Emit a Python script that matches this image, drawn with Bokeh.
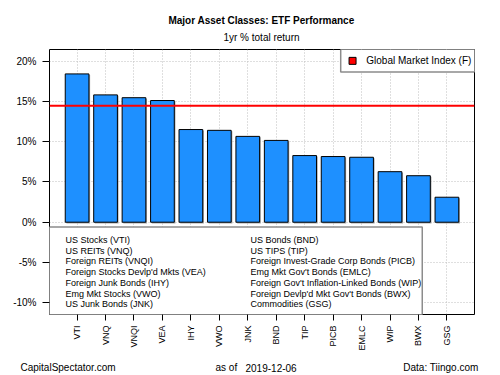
import math
from bokeh.plotting import figure
from bokeh.layouts import column
from bokeh.models import (Range1d, FixedTicker, PrintfTickFormatter, Span, Label,
                          ColumnDataSource)
from bokeh.core.properties import value
from bokeh.embed import file_html
from bokeh.resources import INLINE

# ---------------- data ----------------
tickers = ["VTI", "VNQ", "VNQI", "VEA", "IHY", "VWO", "JNK",
           "BND", "TIP", "PICB", "EMLC", "WIP", "BWX", "GSG"]
returns = [18.4, 15.8, 15.45, 15.1, 11.5, 11.4, 10.65,
           10.15, 8.27, 8.15, 8.06, 6.27, 5.77, 3.1]
names = ["US Stocks (VTI)", "US REITs (VNQ)", "Foreign REITs (VNQI)",
         "Foreign Stocks Devlp'd Mkts (VEA)", "Foreign Junk Bonds (IHY)",
         "Emg Mkt Stocks (VWO)", "US Junk Bonds (JNK)",
         "US Bonds (BND)", "US TIPS (TIP)", "Foreign Invest-Grade Corp Bonds (PICB)",
         "Emg Mkt Gov't Bonds (EMLC)", "Foreign Gov't Inflation-Linked Bonds (WIP)",
         "Foreign Devlp'd Mkt Gov't Bonds (BWX)", "Commodities (GSG)"]
gmi_value = 14.44
gmi_label = "Global Market Index (F)"
y_ticks = [-10, -5, 0, 5, 10, 15, 20]
title_text = "Major Asset Classes: ETF Performance"
subtitle_text = "1yr % total return"
footer_left = "CapitalSpectator.com"
footer_asof = "as of"
footer_date = "2019-12-06"
footer_right = "Data: Tiingo.com"

FONT = "Liberation Sans"
W = 500
HEADER_H = 44
FOOTER_H = 19
MAIN_H = 375 - HEADER_H - FOOTER_H


def blank_fig(h):
    f = figure(width=W, height=h, output_backend="svg", toolbar_location=None,
               x_axis_location=None, y_axis_location=None,
               x_range=Range1d(0, 1), y_range=Range1d(0, 1),
               min_border=0, min_border_left=0, min_border_right=0,
               min_border_top=0, min_border_bottom=0, frame_align=False)
    f.outline_line_color = None
    f.xgrid.visible = False
    f.ygrid.visible = False
    f.background_fill_color = "white"
    f.border_fill_color = "white"
    return f


def add_label(fig, txt, x, y, size, align="left", style="normal"):
    fig.add_layout(Label(x=x, y=y, x_units="screen", y_units="screen", text=txt,
                         text_font=FONT, text_font_size=size, text_align=align,
                         text_baseline="middle", text_font_style=style,
                         text_color="black"))


# ---------------- header ----------------
head = blank_fig(HEADER_H)
add_label(head, title_text, 261, HEADER_H - 20, "10px", "center", "bold")
add_label(head, subtitle_text, 261, HEADER_H - 37, "10px", "center")

# ---------------- main chart ----------------
# R barplot layout: width 1, space 0.2
centers = [0.7 + 1.2 * i for i in range(len(tickers))]

p = figure(width=W, height=MAIN_H, output_backend="svg", toolbar_location=None,
           x_range=Range1d(-0.464, 17.464), y_range=Range1d(-11.45, 21.43),
           min_border_left=49, min_border_right=26,
           min_border_top=49 - HEADER_H,
           min_border_bottom=(375 - FOOTER_H) - 314, frame_align=False)
p.background_fill_color = "white"
p.border_fill_color = "white"
p.outline_line_color = "black"
p.outline_line_width = 1

# grid
p.xgrid.ticker = FixedTicker(ticks=centers)
p.ygrid.ticker = FixedTicker(ticks=y_ticks)
for g in (p.xgrid, p.ygrid):
    g.grid_line_color = "#BEBEBE"
    g.grid_line_dash = "1 2"
    g.grid_line_width = 1

# axes
p.xaxis.ticker = FixedTicker(ticks=centers)
p.xaxis.major_label_overrides = {c: t for c, t in zip(centers, tickers)}
p.xaxis.major_label_orientation = math.pi / 2
p.yaxis.ticker = FixedTicker(ticks=y_ticks)
p.yaxis.formatter = PrintfTickFormatter(format="%d%%")
for ax in (p.xaxis, p.yaxis):
    ax.axis_line_color = None
    ax.major_tick_line_color = "black"
    ax.minor_tick_line_color = None
    ax.major_tick_in = 0
    ax.major_label_text_font = FONT
    ax.major_label_text_color = "black"
p.xaxis.major_label_text_font_size = "9px"
p.yaxis.major_label_text_font_size = "10px"
p.xaxis.major_tick_out = 6
p.xaxis.major_label_standoff = 5
p.yaxis.major_tick_out = 7
p.yaxis.major_label_standoff = 6

src = ColumnDataSource(dict(x=centers, top=returns, tk=tickers))
src_sh = ColumnDataSource(dict(x=[c + 0.05 for c in centers],
                               top=[r - 0.12 for r in returns]))

# shadow and bars
p.vbar(x="x", top="top", bottom=-0.15, width=1.0, source=src_sh,
       fill_color="#A8A8A8", line_color=None)
p.vbar(x="x", top="top", bottom=0, width=1.0, source=src,
       fill_color="#1E90FF", line_color="black", line_width=1)

# global market index line
p.add_layout(Span(location=gmi_value, dimension="width", line_color="#FF0000",
                  line_width=2))

# lower legend box with ETF names
p.quad(left=-1, right=15.26, top=-0.6, bottom=-14, fill_color="white",
       line_color="#8C8C8C", line_width=1.5)
half = len(names) // 2
lx = [0.211 if i < half else 8.015 for i in range(len(names))]
ly = [-2.21 - 1.33 * (i % half) for i in range(len(names))]
p.text(x=lx, y=ly, text=names, text_font=value(FONT), text_font_size="9px",
       text_baseline="middle", text_align="left", text_color="black")

# top-right legend
p.quad(left=11.82, right=19, top=24, bottom=18.63, fill_color="white",
       line_color="#8C8C8C", line_width=1.5)
p.scatter(x=[12.32], y=[20.02], marker="square", size=7, fill_color="#FF0000",
          line_color="black", line_width=1)
p.text(x=[12.9], y=[20.02], text=[gmi_label], text_font=value(FONT),
       text_font_size="10px", text_baseline="middle", text_align="left",
       text_color="black")

# ---------------- footer ----------------
foot = blank_fig(FOOTER_H)
fy = FOOTER_H - (367 - (375 - FOOTER_H))
add_label(foot, footer_left, 20, fy, "10px", "left")
add_label(foot, footer_asof, 215, fy, "10px", "left")
add_label(foot, footer_date, 245, fy, "10px", "left")
add_label(foot, footer_right, 478, fy, "10px", "right")

layout = column(head, p, foot, spacing=0)
open("out.html", "w").write(file_html(layout, INLINE))
